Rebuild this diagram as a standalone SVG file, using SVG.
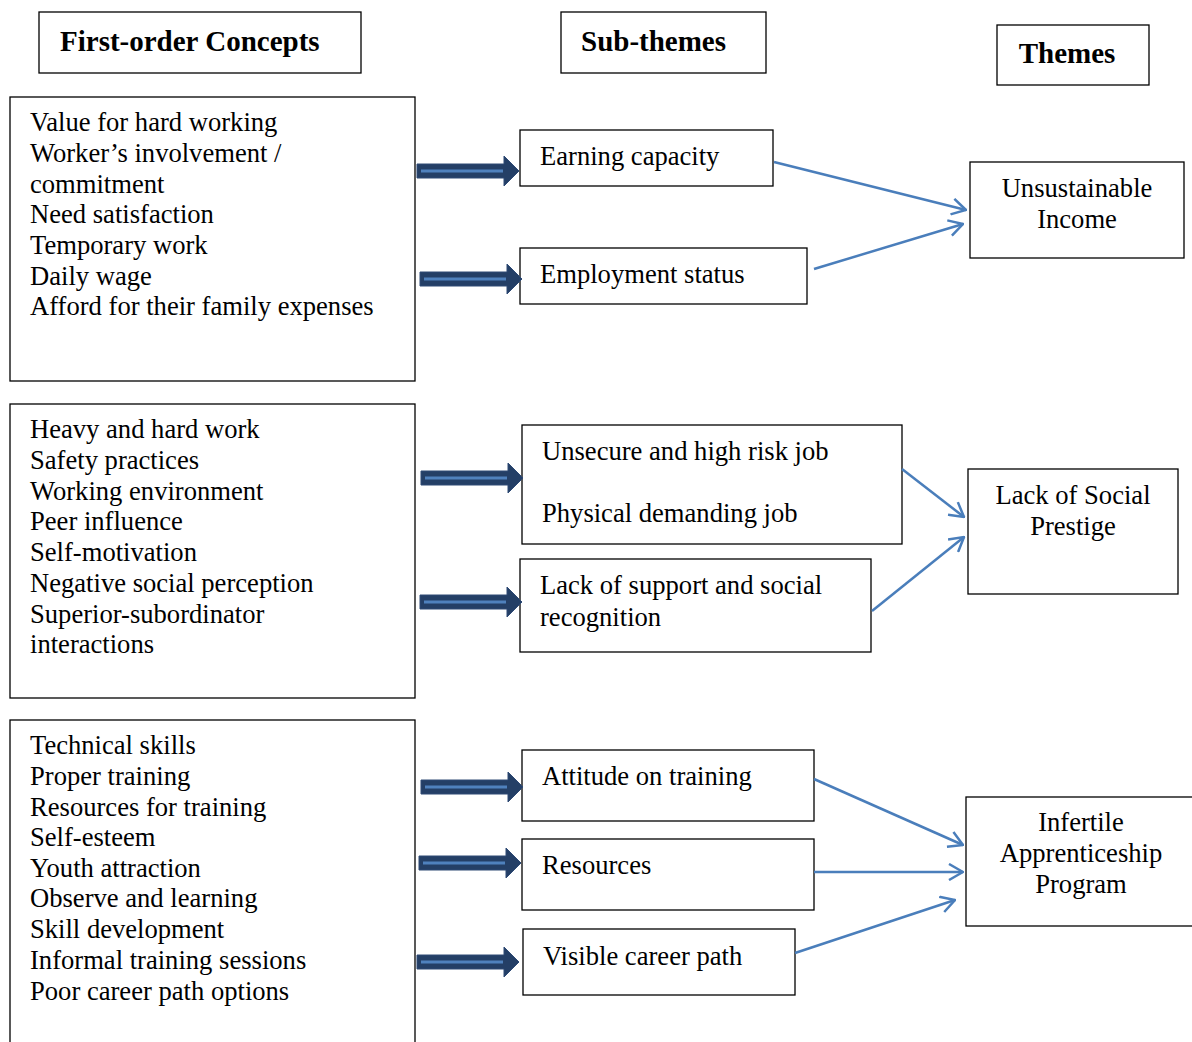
<svg xmlns="http://www.w3.org/2000/svg" width="1192" height="1042" viewBox="0 0 1192 1042">
<style>
.box{fill:#fff;stroke:#000;stroke-width:1.3}
.t{font-family:"Liberation Serif","Times New Roman",serif;font-size:26.6px;fill:#000}
.h{font-family:"Liberation Serif","Times New Roman",serif;font-size:29px;font-weight:bold;fill:#000}
.c{text-anchor:middle}
.thin{stroke:#4A7EBB;stroke-width:2.5;fill:none;marker-end:url(#open)}
</style>
<defs>
<marker id="open" viewBox="0 0 16 18" refX="15" refY="9" markerWidth="16" markerHeight="18" markerUnits="userSpaceOnUse" orient="auto">
<path d="M1,1 L15,9 L1,17" fill="none" stroke="#4A7EBB" stroke-width="2.5"/>
</marker>
<g id="thick">
<path d="M-102,-7 L-15,-7 L-15,-15 L0,0 L-15,15 L-15,7 L-102,7 Z" fill="#243F66" stroke="#2E4A75" stroke-width="1"/>
<line x1="-98" y1="0" x2="-16" y2="0" stroke="#4F81BD" stroke-width="3"/>
</g>
</defs>
<rect width="1192" height="1042" fill="#fff"/>

<g id="hdr-first"><rect class="box" x="39" y="12" width="322" height="61"/><text class="h" x="60" y="51">First-order Concepts</text></g>
<g id="hdr-sub"><rect class="box" x="561" y="12" width="205" height="61"/><text class="h" x="581" y="51">Sub-themes</text></g>
<g id="hdr-themes"><rect class="box" x="997" y="25" width="152" height="60"/><text class="h c" x="1067" y="63">Themes</text></g>

<g id="concepts1"><rect class="box" x="10" y="97" width="405" height="284"/>
<text class="t" x="30" y="131">Value for hard working</text>
<text class="t" x="30" y="162">Worker’s involvement /</text>
<text class="t" x="30" y="193">commitment</text>
<text class="t" x="30" y="223">Need satisfaction</text>
<text class="t" x="30" y="254">Temporary work</text>
<text class="t" x="30" y="285">Daily wage</text>
<text class="t" x="30" y="315">Afford for their family expenses</text></g>

<g id="concepts2"><rect class="box" x="10" y="404" width="405" height="294"/>
<text class="t" x="30" y="438">Heavy and hard work</text>
<text class="t" x="30" y="469">Safety practices</text>
<text class="t" x="30" y="500">Working environment</text>
<text class="t" x="30" y="530">Peer influence</text>
<text class="t" x="30" y="561">Self-motivation</text>
<text class="t" x="30" y="592">Negative social perception</text>
<text class="t" x="30" y="623">Superior-subordinator</text>
<text class="t" x="30" y="653">interactions</text></g>

<g id="concepts3"><rect class="box" x="10" y="720" width="405" height="330"/>
<text class="t" x="30" y="754">Technical skills</text>
<text class="t" x="30" y="785">Proper training</text>
<text class="t" x="30" y="816">Resources for training</text>
<text class="t" x="30" y="846">Self-esteem</text>
<text class="t" x="30" y="877">Youth attraction</text>
<text class="t" x="30" y="907">Observe and learning</text>
<text class="t" x="30" y="938">Skill development</text>
<text class="t" x="30" y="969">Informal training sessions</text>
<text class="t" x="30" y="1000">Poor career path options</text></g>

<g id="sub-earning"><rect class="box" x="520" y="130" width="253" height="56"/><text class="t" x="540" y="165">Earning capacity</text></g>
<g id="sub-employment"><rect class="box" x="520" y="248" width="287" height="56"/><text class="t" x="540" y="283">Employment status</text></g>
<g id="sub-unsecure"><rect class="box" x="522" y="425" width="380" height="119"/><text class="t" x="542" y="460">Unsecure and high risk job</text><text class="t" x="542" y="522">Physical demanding job</text></g>
<g id="sub-support"><rect class="box" x="520" y="559" width="351" height="93"/><text class="t" x="540" y="594">Lack of support and social</text><text class="t" x="540" y="626">recognition</text></g>
<g id="sub-attitude"><rect class="box" x="522" y="750" width="292" height="71"/><text class="t" x="542" y="785">Attitude on training</text></g>
<g id="sub-resources"><rect class="box" x="522" y="839" width="292" height="71"/><text class="t" x="542" y="874">Resources</text></g>
<g id="sub-career"><rect class="box" x="523" y="929" width="272" height="66"/><text class="t" x="543" y="965">Visible career path</text></g>

<g id="theme-income"><rect class="box" x="970" y="162" width="214" height="96"/><text class="t c" x="1077" y="197">Unsustainable</text><text class="t c" x="1077" y="228">Income</text></g>
<g id="theme-prestige"><rect class="box" x="968" y="469" width="210" height="125"/><text class="t c" x="1073" y="504">Lack of Social</text><text class="t c" x="1073" y="535">Prestige</text></g>
<g id="theme-apprentice"><rect class="box" x="966" y="797" width="236" height="129"/><text class="t c" x="1081" y="831">Infertile</text><text class="t c" x="1081" y="862">Apprenticeship</text><text class="t c" x="1081" y="893">Program</text></g>

<g id="connectors">
<use href="#thick" x="519" y="171"/>
<use href="#thick" x="522" y="279"/>
<use href="#thick" x="523" y="478"/>
<use href="#thick" x="522" y="602"/>
<use href="#thick" x="523" y="787"/>
<use href="#thick" x="521" y="863"/>
<use href="#thick" x="519" y="962"/>
<line class="thin" x1="774" y1="162" x2="966" y2="210"/>
<line class="thin" x1="814" y1="269" x2="963" y2="224"/>
<line class="thin" x1="902" y1="469" x2="964" y2="517"/>
<line class="thin" x1="872" y1="611" x2="964" y2="537"/>
<line class="thin" x1="814" y1="779" x2="963" y2="845"/>
<line class="thin" x1="814" y1="872" x2="963" y2="872"/>
<line class="thin" x1="795" y1="953" x2="955" y2="900"/>
</g>
</svg>
